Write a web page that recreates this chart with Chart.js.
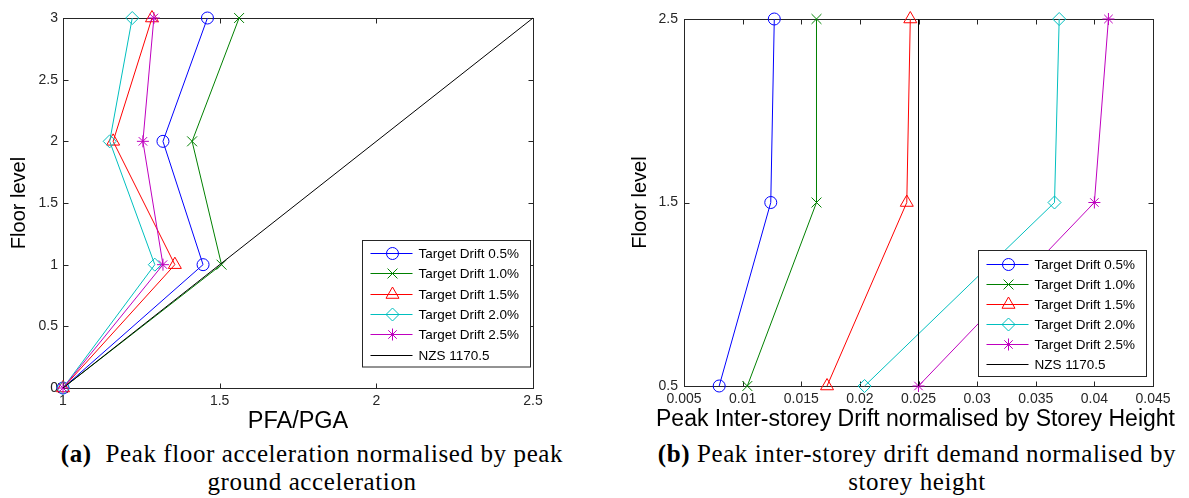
<!DOCTYPE html>
<html><head><meta charset="utf-8">
<script src="https://cdn.jsdelivr.net/npm/chart.js@4.4.1/dist/chart.umd.min.js"></script>
<style>
html,body{margin:0;padding:0;background:#fff;width:1189px;height:498px;overflow:hidden;position:relative;font-family:"Liberation Sans",Arial,sans-serif}
#wa{position:absolute;left:0;top:0;width:595px;height:440px}
#wb{position:absolute;left:600px;top:0;width:589px;height:440px}
.cap{position:absolute;font-family:"Liberation Serif","Times New Roman",serif;font-size:25px;letter-spacing:0.6px;line-height:28px;color:#000;text-align:center;white-space:nowrap}
</style></head><body>
<div id="wa"><canvas id="ca"></canvas></div>
<div id="wb"><canvas id="cb"></canvas></div>
<div class="cap" style="left:12px;top:440px;width:600px"><b>(a)</b>&nbsp; Peak floor acceleration normalised by peak<br>ground acceleration</div>
<div class="cap" style="left:617px;top:440px;width:600px"><b>(b)</b> Peak inter-storey drift demand normalised by<br>storey height</div>
<script>
// ---------- data ----------
const seriesLabels = ['Target Drift 0.5%','Target Drift 1.0%','Target Drift 1.5%','Target Drift 2.0%','Target Drift 2.5%','NZS 1170.5'];

// (a) PFA/PGA per floor level
const floorsA = [0, 1, 2, 3];
const pfaDrift05 = [1, 1.447, 1.319, 1.461];
const pfaDrift10 = [1, 1.506, 1.412, 1.562];
const pfaDrift15 = [1, 1.357, 1.160, 1.284];
const pfaDrift20 = [1, 1.293, 1.149, 1.221];
const pfaDrift25 = [1, 1.319, 1.255, 1.290];
const nzsPfaFloors = [0, 3];
const nzsPfa = [1, 2.5];

// (b) drift per storey
const floorsB = [0.5, 1.5, 2.5];
const driftB05 = [0.0080, 0.0124, 0.0127];
const driftB10 = [0.0104, 0.0163, 0.0163];
const driftB15 = [0.0172, 0.0240, 0.0243];
const driftB20 = [0.0204, 0.0366, 0.0370];
const driftB25 = [0.0250, 0.0400, 0.0412];
const nzsDriftFloors = [0.5, 2.5];
const nzsDrift = [0.025, 0.025];

// tick values
const ticksAX = [1, 1.5, 2, 2.5];
const ticksAY = [0, 0.5, 1, 1.5, 2, 2.5, 3];
const ticksBX = [0.005, 0.01, 0.015, 0.02, 0.025, 0.03, 0.035, 0.04, 0.045];
const ticksBY = [0.5, 1.5, 2.5];

// axis titles
const titleAX = 'PFA/PGA';
const titleBX = 'Peak Inter-storey Drift normalised by Storey Height';
const titleY = 'Floor level';

// ---------- styles ----------
const SANS = '"Liberation Sans", Arial, Helvetica, sans-serif';
const colors = ['#0000ff','#008000','#ff0000','#00bfbf','#bf00bf','#000000'];
const markers = [
  {pointStyle:'circle', pointRadius:6},
  {pointStyle:'crossRot', pointRadius:7},
  {pointStyle:'triangle', pointRadius:7.5},
  {pointStyle:'rectRot', pointRadius:6.5},
  {pointStyle:'star', pointRadius:6},
  {pointStyle:false, pointRadius:0}
];

function makeSet(i, xs, ys){
  return {
    label: seriesLabels[i],
    data: xs.map((v,k)=>({x:v, y:ys[k]})),
    borderColor: colors[i],
    backgroundColor: 'rgba(0,0,0,0)',
    pointBorderColor: colors[i],
    pointBackgroundColor: 'rgba(0,0,0,0)',
    pointStyle: markers[i].pointStyle,
    pointRadius: markers[i].pointRadius,
    pointBorderWidth: 1,
    borderWidth: 1,
    showLine: true,
    tension: 0,
    clip: false,
    order: 6 - i
  };
}

function drawMarker(ctx, style, r, x, y, color){
  if (!style || !r) return;
  ctx.save();
  ctx.strokeStyle = color; ctx.lineWidth = 1;
  if (Chart.helpers && Chart.helpers.drawPoint) {
    ctx.fillStyle = 'rgba(0,0,0,0)';
    Chart.helpers.drawPoint(ctx, {pointStyle: style, radius: r, rotation: 0, borderWidth: 1}, x, y);
  } else {
    ctx.beginPath();
    ctx.arc(x, y, r, 0, Math.PI*2); ctx.stroke();
  }
  ctx.restore();
}

const framePlugin = {
  id: 'frame',
  beforeDatasetsDraw(chart){
    const {ctx, chartArea:a, scales:{x, y}} = chart;
    const L = Math.round(a.left)+0.5, R = Math.round(a.right)+0.5, T = Math.round(a.top)+0.5, B = Math.round(a.bottom)+0.5;
    const tl = 5;
    ctx.save();
    ctx.strokeStyle = '#262626'; ctx.lineWidth = 1;
    ctx.strokeRect(L, T, R-L, B-T);
    ctx.beginPath();
    x.ticks.forEach(t=>{
      const px = Math.round(x.getPixelForValue(t.value))+0.5;
      ctx.moveTo(px, B); ctx.lineTo(px, B - tl);
      ctx.moveTo(px, T); ctx.lineTo(px, T + tl);
    });
    y.ticks.forEach(t=>{
      const py = Math.round(y.getPixelForValue(t.value))+0.5;
      ctx.moveTo(L, py); ctx.lineTo(L + tl, py);
      ctx.moveTo(R, py); ctx.lineTo(R - tl, py);
    });
    ctx.stroke();
    ctx.restore();
  }
};

// x-axis title drawn without width compression (MATLAB lets it overhang the axes)
const xTitlePlugin = {
  id: 'xTitle',
  afterDraw(chart, args, o){
    const {ctx, chartArea:a} = chart;
    ctx.save();
    ctx.font = o.size + 'px ' + SANS;
    ctx.fillStyle = '#000';
    ctx.textAlign = 'center'; ctx.textBaseline = 'middle';
    ctx.fillText(o.text, (a.left + a.right)/2 + (o.dx||0), a.bottom + o.dy);
    ctx.restore();
  }
};

const legendPlugin = {
  id: 'boxLegend',
  afterDatasetsDraw(chart, args, o){
    const {ctx, chartArea:a} = chart;
    const w = o.width, n = chart.data.datasets.length;
    const h = o.firstOff*2 + o.rowH*(n-1);
    const bx = Math.round(a.right - o.right - w)+0.5, by = Math.round(a.bottom - o.bottom - h)+0.5;
    ctx.save();
    ctx.fillStyle = '#fff'; ctx.fillRect(bx, by, w, h);
    ctx.strokeStyle = '#262626'; ctx.lineWidth = 1; ctx.strokeRect(bx, by, w, h);
    ctx.font = o.fontSize + 'px ' + SANS;
    ctx.textBaseline = 'middle'; ctx.textAlign = 'left';
    chart.data.datasets.forEach((ds, i)=>{
      const cy = Math.round(by + o.firstOff + i*o.rowH) + 0.5;
      ctx.strokeStyle = ds.borderColor; ctx.lineWidth = 1;
      ctx.beginPath(); ctx.moveTo(bx + 8, cy); ctx.lineTo(bx + 50, cy); ctx.stroke();
      drawMarker(ctx, ds.pointStyle, ds.pointRadius, bx + 30, cy, ds.pointBorderColor);
      ctx.fillStyle = '#000';
      ctx.fillText(ds.label, bx + 56, cy + 0.5);
    });
    ctx.restore();
  }
};

function axis(opts){
  return {
    type: 'linear',
    min: opts.min, max: opts.max,
    afterBuildTicks: s => { s.ticks = opts.ticks.map(v=>({value:v})); },
    afterFit: s => { if (opts.w !== undefined) s.width = opts.w; if (opts.h !== undefined) s.height = opts.h; },
    grid: {display:false, drawTicks:false},
    border: {display:false},
    ticks: {padding: opts.pad, autoSkip:false, maxRotation:0, minRotation:0, color:'#262626',
            font:{family:SANS, size:14}, callback: v => String(v)},
    title: {display: !!opts.title, text: opts.title || '', color:'#000', font:{family:SANS, size: opts.tsize || 20}, padding: opts.tpad || 0}
  };
}

Chart.defaults.animation = false;

new Chart(document.getElementById('ca'), {
  type: 'scatter',
  data: { datasets: [
    makeSet(0, pfaDrift05, floorsA),
    makeSet(1, pfaDrift10, floorsA),
    makeSet(2, pfaDrift15, floorsA),
    makeSet(3, pfaDrift20, floorsA),
    makeSet(4, pfaDrift25, floorsA),
    makeSet(5, nzsPfa, nzsPfaFloors)
  ]},
  options: {
    responsive: true, maintainAspectRatio: false, events: [],
    layout: {padding: {top:18, right:62, left:0, bottom:0}},
    plugins: {legend:{display:false}, tooltip:{enabled:false},
      boxLegend: {right:3, bottom:22, width:168, rowH:20.3, firstOff:12.5, fontSize:13.5},
      xTitle: {text:titleAX, size:23.5, dy:34, dx:0}},
    scales: {
      x: axis({min:1, max:2.5, ticks:ticksAX, h:52, pad:5}),
      y: axis({min:0, max:3, ticks:ticksAY, w:63, pad:5, title:titleY, tsize:20, tpad:{top:7,bottom:0}})
    }
  },
  plugins: [framePlugin, legendPlugin, xTitlePlugin]
});

new Chart(document.getElementById('cb'), {
  type: 'scatter',
  data: { datasets: [
    makeSet(0, driftB05, floorsB),
    makeSet(1, driftB10, floorsB),
    makeSet(2, driftB15, floorsB),
    makeSet(3, driftB20, floorsB),
    makeSet(4, driftB25, floorsB),
    makeSet(5, nzsDrift, nzsDriftFloors)
  ]},
  options: {
    responsive: true, maintainAspectRatio: false, events: [],
    layout: {padding: {top:19, right:36, left:0, bottom:0}},
    plugins: {legend:{display:false}, tooltip:{enabled:false},
      boxLegend: {right:7, bottom:10, width:168, rowH:20, firstOff:13, fontSize:13.5},
      xTitle: {text:titleBX, size:23, dy:34, dx:-3}},
    scales: {
      x: axis({min:0.005, max:0.045, ticks:ticksBX, h:54, pad:5}),
      y: axis({min:0.5, max:2.5, ticks:ticksBY, w:84, pad:6, title:titleY, tsize:20, tpad:{top:28,bottom:0}})
    }
  },
  plugins: [framePlugin, legendPlugin, xTitlePlugin]
});
</script>
</body></html>
